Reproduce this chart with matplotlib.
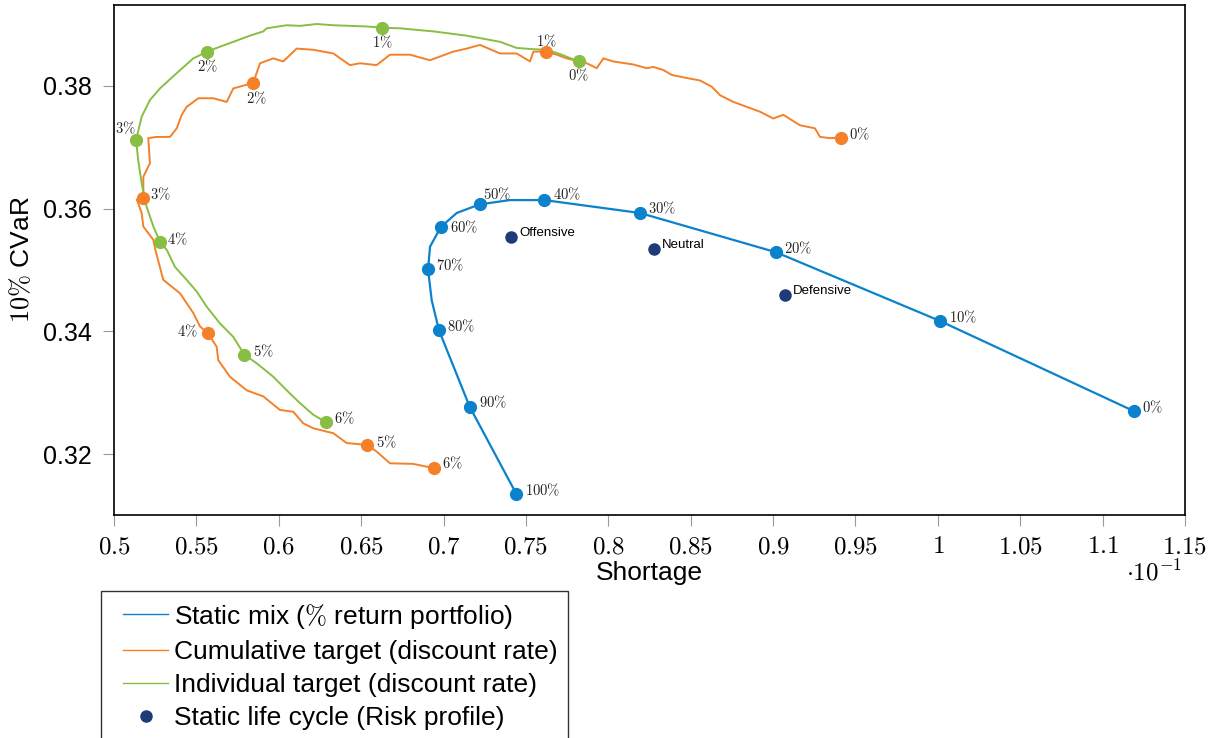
import matplotlib
matplotlib.use('Agg')
import matplotlib.pyplot as plt
from matplotlib.lines import Line2D
from matplotlib.legend_handler import HandlerLine2D
from matplotlib.ticker import FixedLocator, FuncFormatter

plt.rcParams['font.family'] = ['Liberation Sans', 'DejaVu Sans']
plt.rcParams['mathtext.fontset'] = 'cm'

BLUE = '#0A82CC'
ORANGE = '#F4812A'
GREEN = '#88BE43'
NAVY = '#1E3A78'

# static mix, share of return portfolio
mix_labels = ['0%', '10%', '20%', '30%', '40%', '50%', '60%', '70%', '80%', '90%', '100%']
mix_shortage = [0.11190, 0.10013, 0.09018, 0.08192, 0.07612, 0.07219, 0.06983, 0.06906, 0.06972, 0.07159, 0.07442]
mix_cvar = [0.3270, 0.3417, 0.3529, 0.3593, 0.3614, 0.3607, 0.3570, 0.3501, 0.3402, 0.3277, 0.3135]

# frontier traced by the static mixes
mix_curve_shortage = [0.07442, 0.07159, 0.06972, 0.06928, 0.06906, 0.06918, 0.06983, 0.07080,
                      0.07219, 0.07403, 0.07612, 0.08192, 0.09018, 0.10013, 0.11190]
mix_curve_cvar = [0.3135, 0.3277, 0.3402, 0.3451, 0.3501, 0.3538, 0.3570, 0.3593,
                  0.3607, 0.3614, 0.3614, 0.3593, 0.3529, 0.3417, 0.3270]

# cumulative target, by discount rate
rate_labels = ['0%', '1%', '2%', '3%', '4%', '5%', '6%']
cum_shortage = [0.09410, 0.07624, 0.05846, 0.05178, 0.05569, 0.06537, 0.06944]
cum_cvar = [0.3716, 0.3856, 0.3805, 0.3618, 0.3397, 0.3215, 0.3177]
cum_curve_shortage = [
    0.09410, 0.09345, 0.09285, 0.09254, 0.09163, 0.09062, 0.09001, 0.08921, 0.08840, 0.08759,
    0.08678, 0.08627, 0.08556, 0.08476, 0.08385, 0.08334, 0.08273, 0.08233, 0.08152, 0.08030,
    0.07970, 0.07930, 0.07869, 0.07747, 0.07687, 0.07624, 0.07545, 0.07525, 0.07444, 0.07343,
    0.07221, 0.07141, 0.07059, 0.06918, 0.06796, 0.06675, 0.06594, 0.06493, 0.06432, 0.06331,
    0.06210, 0.06109, 0.06027, 0.05967, 0.05886, 0.05845, 0.05724, 0.05684, 0.05603, 0.05512,
    0.05441, 0.05411, 0.05381, 0.05340, 0.05259, 0.05208, 0.05218, 0.05178, 0.05178, 0.05138,
    0.05168, 0.05178, 0.05239, 0.05249, 0.05299, 0.05401, 0.05481, 0.05522, 0.05569, 0.05623,
    0.05633, 0.05704, 0.05805, 0.05906, 0.06007, 0.06088, 0.06149, 0.06210, 0.06331, 0.06412,
    0.06537, 0.06594, 0.06675, 0.06816, 0.06944]
cum_curve_cvar = [
    0.3716, 0.3715, 0.3717, 0.3731, 0.3736, 0.3753, 0.3747, 0.3758, 0.3766, 0.3774,
    0.3785, 0.3799, 0.3809, 0.3813, 0.3818, 0.3826, 0.3831, 0.3829, 0.3835, 0.3840,
    0.3845, 0.3829, 0.3837, 0.3845, 0.3851, 0.3856, 0.3856, 0.3840, 0.3853, 0.3853,
    0.3867, 0.3861, 0.3856, 0.3842, 0.3851, 0.3851, 0.3834, 0.3837, 0.3834, 0.3853,
    0.3859, 0.3861, 0.3840, 0.3845, 0.3837, 0.3805, 0.3796, 0.3774, 0.3780, 0.3780,
    0.3766, 0.3753, 0.3731, 0.3717, 0.3717, 0.3715, 0.3674, 0.3652, 0.3618, 0.3615,
    0.3593, 0.3571, 0.3549, 0.3535, 0.3484, 0.3462, 0.3430, 0.3408, 0.3397, 0.3375,
    0.3353, 0.3326, 0.3304, 0.3294, 0.3272, 0.3269, 0.3250, 0.3242, 0.3234, 0.3218,
    0.3215, 0.3204, 0.3185, 0.3184, 0.3177]

# individual target, by discount rate
ind_shortage = [0.07820, 0.06627, 0.05566, 0.05134, 0.05281, 0.05791, 0.06287]
ind_cvar = [0.3840, 0.3895, 0.3856, 0.3712, 0.3545, 0.3362, 0.3252]
ind_curve_shortage = [
    0.07820, 0.07707, 0.07626, 0.07543, 0.07444, 0.07343, 0.07141, 0.06938, 0.06736, 0.06627,
    0.06534, 0.06331, 0.06230, 0.06129, 0.06048, 0.05927, 0.05906, 0.05825, 0.05724, 0.05643,
    0.05566, 0.05481, 0.05381, 0.05279, 0.05218, 0.05168, 0.05134, 0.05147, 0.05168, 0.05198,
    0.05239, 0.05281, 0.05320, 0.05370, 0.05441, 0.05502, 0.05563, 0.05643, 0.05724, 0.05791,
    0.05866, 0.05967, 0.06048, 0.06129, 0.06210, 0.06287]
ind_curve_cvar = [
    0.3840, 0.3852, 0.3859, 0.3860, 0.3862, 0.3872, 0.3882, 0.3889, 0.3894, 0.3895,
    0.3897, 0.3899, 0.3901, 0.3898, 0.3899, 0.3894, 0.3889, 0.3882, 0.3872, 0.3864,
    0.3856, 0.3845, 0.3821, 0.3796, 0.3777, 0.3750, 0.3712, 0.3679, 0.3641, 0.3603,
    0.3571, 0.3545, 0.3533, 0.3505, 0.3484, 0.3465, 0.3440, 0.3413, 0.3391, 0.3362,
    0.3348, 0.3326, 0.3304, 0.3283, 0.3264, 0.3252]

# static life cycle, by risk profile
profile_labels = ['Offensive', 'Neutral', 'Defensive']
profile_shortage = [0.07411, 0.08277, 0.09072]
profile_cvar = [0.3554, 0.3535, 0.3460]

x_ticks = [0.05, 0.055, 0.06, 0.065, 0.07, 0.075, 0.08, 0.085, 0.09, 0.095,
           0.1, 0.105, 0.11, 0.115]
y_ticks = [0.32, 0.34, 0.36, 0.38]

# label offsets in pixels (dx, dy) and horizontal alignment
mix_offsets = [(8, 4), (9, 4), (8, 4), (8, 5), (9, 6), (3, 10), (9, 0),
               (8, 4), (8, 4), (9, 5), (9, 4)]
cum_offsets = [(8, 3, 'left'), (0, 11, 'center'), (3, -15, 'center'), (7, 4, 'left'),
               (-10, 2, 'right'), (9, 3, 'left'), (8, 5, 'left')]
ind_offsets = [(0, -14, 'center'), (0, -14, 'center'), (0, -14, 'center'), (-11, 12, 'center'),
               (7, 3, 'left'), (9, 4, 'left'), (8, 4, 'left')]

fig = plt.figure(figsize=(12.16, 7.38), dpi=100)
ax = fig.add_axes([114 / 1216, 1 - 515 / 738, (1185 - 114) / 1216, (515 - 5) / 738])

ax.plot(mix_curve_shortage, mix_curve_cvar, color=BLUE, lw=1.6, zorder=3)
ax.plot(mix_shortage, mix_cvar, 'o', color=BLUE, ms=8.5, zorder=4)
ax.plot(cum_curve_shortage, cum_curve_cvar, color=ORANGE, lw=1.4, zorder=2)
ax.plot(cum_shortage, cum_cvar, 'o', color=ORANGE, ms=8.5, zorder=4)
ax.plot(ind_curve_shortage, ind_curve_cvar, color=GREEN, lw=1.4, zorder=2)
ax.plot(ind_shortage, ind_cvar, 'o', color=GREEN, ms=8.5, zorder=4)
ax.plot(profile_shortage, profile_cvar, 'o', color=NAVY, ms=8, zorder=4)

pct_style = dict(textcoords='offset pixels', va='center', fontsize=10.5, color='#222222')
for lab, x, y, (dx, dy) in zip(mix_labels, mix_shortage, mix_cvar, mix_offsets):
    ax.annotate('$' + lab.replace('%', r'\%') + '$', (x, y), xytext=(dx, dy), ha='left', **pct_style)
for lab, x, y, (dx, dy, ha) in zip(rate_labels, cum_shortage, cum_cvar, cum_offsets):
    ax.annotate('$' + lab.replace('%', r'\%') + '$', (x, y), xytext=(dx, dy), ha=ha, **pct_style)
for lab, x, y, (dx, dy, ha) in zip(rate_labels, ind_shortage, ind_cvar, ind_offsets):
    ax.annotate('$' + lab.replace('%', r'\%') + '$', (x, y), xytext=(dx, dy), ha=ha, **pct_style)
for lab, x, y in zip(profile_labels, profile_shortage, profile_cvar):
    ax.annotate(lab, (x, y), xytext=(8, 4), textcoords='offset pixels',
                ha='left', va='center', fontsize=9.5)

ax.set_xlim(0.05, 0.115)
ax.set_ylim(0.31007, 0.39320)
ax.xaxis.set_major_locator(FixedLocator(x_ticks))
ax.yaxis.set_major_locator(FixedLocator(y_ticks))
ax.xaxis.set_major_formatter(FuncFormatter(lambda v, p: '$%g$' % round(v * 10, 3)))
ax.yaxis.set_major_formatter(FuncFormatter(lambda v, p: '%.2f' % v))
ax.tick_params(axis='x', direction='out', length=8, width=0.8, color='#999999',
               labelsize=18, pad=6)
ax.tick_params(axis='y', direction='out', length=8, width=0.8, color='#999999',
               labelsize=18, pad=8)
for s in ax.spines.values():
    s.set_linewidth(1.2)

ax.set_xlabel('Shortage', fontsize=19, labelpad=2)
ax.set_ylabel(r'$10\%$ CVaR', fontsize=19, labelpad=6)
fig.text(1182 / 1216, 1 - 573 / 738, r'$\cdot 10^{-1}$', fontsize=18,
         ha='right', va='center')

handles = [
    Line2D([], [], color=BLUE, lw=1),
    Line2D([], [], color=ORANGE, lw=1),
    Line2D([], [], color=GREEN, lw=1),
    Line2D([], [], color=NAVY, marker='o', ls='none', ms=8),
]
labels = [r'Static mix ($\%$ return portfolio)', 'Cumulative target (discount rate)',
          'Individual target (discount rate)', 'Static life cycle (Risk profile)']
leg = fig.legend(handles, labels, loc='upper left', bbox_to_anchor=(101 / 1216, 1 - 591 / 738),
                 fontsize=19, frameon=True, fancybox=False, edgecolor='black',
                 handlelength=2.15, handletextpad=0.22, labelspacing=0.35,
                 borderpad=0.4, borderaxespad=0,
                 handler_map={Line2D: HandlerLine2D(xpad=0.45)})
leg.get_frame().set_linewidth(1.0)

fig.savefig('out.png', dpi=100)
